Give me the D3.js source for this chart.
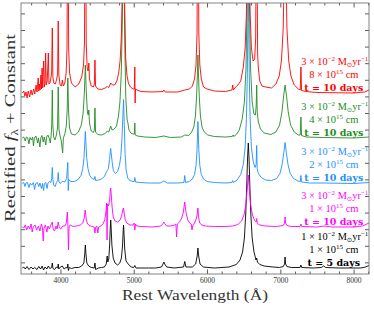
<!DOCTYPE html>
<html>
<head>
<meta charset="utf-8">
<script src="https://cdn.jsdelivr.net/npm/d3@7"></script>
<style>
body { margin: 0; background: #fff; }
svg text { font-family: "Liberation Serif", "DejaVu Serif", serif; }
</style>
</head>
<body>
<div id="chart"></div>
<script>
// spectra, each point is [rest wavelength (A), rectified flux]
var specBlack = [[3480,1.0],[3500,1.1],[3520,0.9],[3545,1.15],[3570,0.85],[3600,1.1],[3625,0.9],[3650,1.05],[3680,0.85],[3705,1.15],[3730,0.9],[3750,1.2],[3770,0.8],[3790,1.1],[3815,0.9],[3835,1.2],[3855,0.95],[3880,1.05],[3889,1.5],[3898,0.95],[3920,0.85],[3945,1.1],[3962,1.0],[3970,1.4],[3978,0.9],[4000,1.1],[4026,1.2],[4050,0.9],[4075,1.05],[4093,1.0],[4101,1.4],[4109,0.75],[4120,1.05],[4150,0.95],[4200,1.05],[4250,1.05],[4290,1.2],[4320,1.5],[4333,2.5],[4340,3.3],[4347,2.5],[4360,1.5],[4385,1.2],[4420,1.05],[4460,1.0],[4471,1.5],[4480,0.85],[4520,1.0],[4560,1.05],[4600,1.1],[4625,1.4],[4638,2.2],[4646,1.6],[4660,1.9],[4672,3.4],[4681,5.2],[4686,5.8],[4691,5.2],[4702,3.3],[4720,2.0],[4745,1.5],[4780,1.3],[4810,1.5],[4832,2.0],[4847,3.2],[4856,4.7],[4861,5.3],[4866,4.7],[4877,2.9],[4895,1.7],[4925,1.4],[4965,1.1],[5000,1.05],[5015,1.25],[5030,1.0],[5100,1.0],[5200,1.0],[5300,1.0],[5380,1.1],[5400,1.4],[5411,1.6],[5422,1.4],[5450,1.1],[5550,1.0],[5680,1.1],[5696,1.65],[5712,1.1],[5800,1.1],[5845,1.4],[5866,2.2],[5876,3.0],[5886,2.2],[5905,1.4],[5950,1.1],[6100,1.0],[6300,1.1],[6400,1.35],[6450,1.8],[6485,2.6],[6510,4.0],[6529,6.5],[6543,9.5],[6553,12.0],[6563,13.5],[6573,12.0],[6583,9.5],[6597,6.5],[6616,4.0],[6641,2.6],[6668,1.8],[6678,2.0],[6688,1.6],[6720,1.35],[6780,1.2],[6900,1.1],[6990,1.05],[7040,1.15],[7058,1.4],[7065,2.1],[7072,1.4],[7090,1.15],[7150,1.05],[7270,1.05],[7281,1.3],[7292,1.05],[7450,1.0],[7560,1.05],[7590,1.2],[7620,1.05],[7800,1.0],[8100,1.0],[8160,1.1],[8210,1.25]];

var specMagenta = [[3480,1.0],[3500,0.9],[3520,1.2],[3540,0.7],[3560,1.1],[3580,0.8],[3600,1.3],[3615,0.5],[3630,1.0],[3655,1.2],[3675,0.7],[3700,1.1],[3720,0.6],[3740,1.3],[3755,0.9],[3765,-0.4],[3775,0.9],[3795,1.2],[3815,0.5],[3830,1.1],[3850,0.8],[3870,1.2],[3889,1.5],[3900,0.8],[3920,0.6],[3940,1.1],[3955,0.8],[3970,1.5],[3985,0.9],[4005,0.8],[4030,1.1],[4060,1.1],[4080,1.4],[4095,2.5],[4103,1.0],[4110,-1.3],[4118,1.0],[4135,1.2],[4170,1.05],[4220,1.1],[4270,1.2],[4305,1.4],[4325,1.9],[4337,2.7],[4343,2.4],[4352,1.8],[4365,1.4],[4390,1.15],[4430,1.05],[4460,1.0],[4471,0.4],[4482,1.0],[4497,1.1],[4510,0.4],[4522,1.0],[4550,1.1],[4580,1.3],[4605,1.7],[4622,2.6],[4630,3.4],[4636,-0.3],[4643,3.3],[4656,3.1],[4670,3.6],[4680,4.6],[4686,4.9],[4692,4.4],[4705,3.0],[4720,2.0],[4745,1.6],[4780,1.5],[4815,1.7],[4838,2.2],[4853,2.8],[4861,2.9],[4868,2.5],[4882,1.8],[4905,1.4],[4950,1.2],[4990,1.2],[5005,1.4],[5015,0.7],[5025,1.3],[5045,1.1],[5100,1.05],[5250,1.0],[5370,1.1],[5400,1.35],[5411,1.5],[5422,1.35],[5450,1.1],[5500,1.1],[5555,1.2],[5575,1.3],[5585,0.0],[5595,1.3],[5625,1.5],[5655,1.9],[5675,2.4],[5688,3.1],[5696,3.5],[5704,3.0],[5717,2.3],[5738,1.7],[5765,1.4],[5785,1.3],[5795,0.7],[5808,1.2],[5830,1.4],[5852,1.8],[5866,2.3],[5876,2.9],[5884,2.0],[5900,1.4],[5930,1.2],[5980,1.1],[6100,1.05],[6250,1.05],[6350,1.1],[6420,1.25],[6470,1.6],[6505,2.2],[6530,3.3],[6547,4.6],[6557,5.6],[6563,6.2],[6569,5.6],[6579,4.6],[6596,3.2],[6620,2.2],[6650,1.65],[6670,1.5],[6678,1.85],[6686,1.35],[6720,1.2],[6800,1.1],[6950,1.05],[7040,1.15],[7058,1.4],[7065,2.0],[7072,1.4],[7090,1.15],[7150,1.05],[7270,1.05],[7281,1.3],[7292,1.05],[7500,1.0],[7600,1.1],[7700,1.0],[8000,1.0],[8120,1.1],[8180,1.3],[8210,1.4]];

var specBlue = [[3480,1.0],[3500,1.1],[3515,0.7],[3530,1.05],[3550,1.1],[3570,0.6],[3585,1.0],[3610,0.85],[3630,1.1],[3648,0.4],[3662,1.0],[3685,1.1],[3705,0.7],[3720,1.05],[3742,0.5],[3755,1.0],[3770,0.3],[3782,1.0],[3800,1.1],[3818,0.5],[3830,1.05],[3850,1.2],[3870,1.1],[3881,1.5],[3889,2.6],[3897,1.4],[3910,0.8],[3930,0.7],[3945,1.1],[3962,1.3],[3970,2.1],[3978,1.2],[3995,1.0],[4026,1.2],[4060,1.15],[4085,1.5],[4095,2.6],[4101,3.1],[4107,0.3],[4115,1.4],[4140,1.2],[4190,1.2],[4240,1.4],[4280,1.8],[4305,2.5],[4322,3.6],[4333,5.2],[4340,6.2],[4347,5.2],[4358,3.6],[4375,2.5],[4400,1.8],[4430,1.5],[4460,1.4],[4471,1.7],[4480,1.3],[4520,1.35],[4560,1.45],[4600,1.7],[4625,2.1],[4640,2.3],[4655,2.5],[4670,3.4],[4680,4.2],[4686,4.5],[4692,4.1],[4705,3.2],[4722,2.3],[4750,2.0],[4780,2.2],[4805,2.8],[4825,3.8],[4840,5.5],[4852,7.8],[4861,9.4],[4870,7.2],[4882,4.0],[4897,2.3],[4920,1.5],[4950,1.3],[4990,1.2],[5007,1.2],[5015,1.6],[5025,1.15],[5080,1.1],[5200,1.05],[5360,1.05],[5411,1.25],[5460,1.05],[5600,1.05],[5685,1.1],[5696,1.8],[5707,1.1],[5760,1.2],[5800,1.45],[5830,1.9],[5850,2.8],[5864,4.4],[5876,7.2],[5888,4.4],[5902,2.8],[5922,1.9],[5952,1.45],[6000,1.2],[6100,1.1],[6250,1.05],[6340,1.1],[6350,1.3],[6360,1.1],[6410,1.35],[6460,1.9],[6495,2.9],[6520,4.6],[6538,7.5],[6550,12.0],[6557,17.0],[6563,21.0],[6569,17.0],[6576,12.0],[6588,7.5],[6606,4.6],[6630,3.2],[6655,2.6],[6670,2.9],[6678,4.8],[6684,2.5],[6700,2.0],[6740,1.6],[6800,1.35],[6880,1.3],[6950,1.5],[6995,2.0],[7025,2.9],[7048,4.1],[7065,5.1],[7082,4.1],[7105,2.9],[7135,2.0],[7180,1.5],[7240,1.25],[7272,1.2],[7281,1.8],[7290,1.15],[7400,1.05],[7600,1.05],[8000,1.0],[8210,1.1]];

var specGreen = [[3480,1.0],[3500,1.1],[3520,0.7],[3535,1.1],[3555,1.0],[3570,0.4],[3585,1.05],[3605,0.8],[3620,1.1],[3632,0.2],[3645,1.0],[3665,1.2],[3690,0.5],[3700,1.0],[3720,0.1],[3732,1.0],[3748,1.25],[3765,0.6],[3780,1.1],[3800,0.3],[3812,1.1],[3830,1.3],[3850,0.9],[3862,0.5],[3875,1.4],[3882,2.5],[3889,5.8],[3896,2.3],[3908,1.1],[3925,0.8],[3945,1.3],[3960,2.0],[3970,6.1],[3980,1.9],[3995,1.2],[4012,0.7],[4030,-0.5],[4040,1.0],[4060,1.4],[4080,2.2],[4092,3.8],[4101,7.0],[4110,3.8],[4125,2.0],[4150,1.4],[4200,1.3],[4245,1.6],[4285,2.3],[4310,3.5],[4327,5.6],[4340,8.3],[4353,5.6],[4368,3.6],[4379,3.3],[4388,3.8],[4396,2.5],[4420,1.7],[4450,1.55],[4463,1.8],[4471,4.0],[4479,1.6],[4510,1.35],[4560,1.3],[4610,1.45],[4640,1.7],[4660,1.6],[4686,2.2],[4705,1.8],[4735,1.9],[4765,2.2],[4792,3.2],[4812,4.6],[4830,7.5],[4845,13],[4855,19],[4861,23],[4867,19],[4877,11],[4892,5.0],[4910,2.8],[4921,2.5],[4935,1.8],[4960,1.5],[4990,1.4],[5008,1.4],[5015,2.5],[5020,1.3],[5050,1.2],[5150,1.1],[5300,1.05],[5411,1.2],[5500,1.05],[5650,1.1],[5696,1.3],[5750,1.25],[5790,1.6],[5820,2.1],[5842,3.2],[5858,5.2],[5868,7.2],[5876,9.3],[5884,7.2],[5894,5.2],[5910,3.2],[5932,2.1],[5962,1.6],[6010,1.3],[6100,1.15],[6250,1.1],[6345,1.15],[6355,1.3],[6365,1.15],[6400,1.35],[6440,1.8],[6480,2.9],[6510,4.6],[6532,8.0],[6546,14],[6555,20],[6563,24],[6571,20],[6580,14],[6594,8.0],[6616,4.6],[6640,3.4],[6660,3.3],[6671,4.2],[6678,6.3],[6685,3.6],[6700,2.6],[6730,1.9],[6780,1.5],[6870,1.35],[6940,1.6],[6990,2.3],[7022,3.6],[7045,5.2],[7065,6.3],[7085,5.2],[7108,3.6],[7140,2.3],[7190,1.6],[7245,1.3],[7272,1.3],[7281,3.1],[7290,1.25],[7350,1.1],[7600,1.05],[8000,1.0],[8210,1.1]];

var specRed = [[3480,1.0],[3500,1.2],[3515,0.7],[3530,1.1],[3545,0.5],[3560,1.2],[3580,0.6],[3598,1.3],[3615,0.8],[3635,1.4],[3650,0.9],[3668,1.8],[3680,1.1],[3697,2.5],[3705,1.2],[3715,1.9],[3722,1.3],[3734,2.8],[3740,1.4],[3750,3.5],[3758,1.5],[3771,4.2],[3780,1.6],[3790,2.0],[3798,5.0],[3806,1.8],[3820,2.2],[3835,5.0],[3843,1.9],[3858,2.0],[3872,2.6],[3880,3.0],[3889,7.5],[3897,2.6],[3910,2.0],[3930,1.9],[3950,2.4],[3962,3.0],[3970,8.2],[3978,2.8],[3995,1.8],[4015,1.7],[4026,2.3],[4040,1.7],[4060,2.0],[4078,3.0],[4090,5.5],[4101,25],[4112,5.5],[4125,3.0],[4150,2.0],[4200,1.6],[4250,1.9],[4290,2.6],[4315,3.8],[4328,6.0],[4340,25],[4352,6.0],[4365,3.5],[4378,3.2],[4388,4.0],[4396,2.4],[4420,1.7],[4450,1.6],[4463,1.9],[4471,4.3],[4479,1.7],[4510,1.4],[4560,1.35],[4610,1.5],[4640,1.65],[4660,1.55],[4686,2.0],[4710,1.8],[4740,1.8],[4770,2.2],[4795,3.0],[4815,4.3],[4832,6.8],[4846,12],[4861,30],[4876,10],[4890,4.5],[4907,2.8],[4927,2.0],[4955,1.6],[4990,1.4],[5008,1.4],[5015,3.6],[5019,0.0],[5024,1.4],[5045,1.3],[5100,1.15],[5250,1.1],[5400,1.15],[5411,1.3],[5430,1.1],[5600,1.1],[5696,1.3],[5760,1.4],[5800,1.7],[5830,2.4],[5850,3.8],[5864,7.0],[5876,28],[5888,7.0],[5902,3.8],[5922,2.4],[5952,1.6],[6000,1.4],[6100,1.2],[6250,1.15],[6340,1.3],[6350,1.8],[6360,1.3],[6380,1.5],[6420,1.8],[6460,2.2],[6495,3.6],[6520,5.5],[6538,9.0],[6550,18],[6563,40],[6576,18],[6588,9.0],[6606,5.5],[6628,4.2],[6650,4.4],[6664,6.5],[6678,25],[6690,5.0],[6700,3.5],[6720,2.2],[6750,1.7],[6800,1.6],[6880,1.5],[6940,1.9],[6985,2.7],[7015,4.2],[7040,7.5],[7055,14],[7065,25],[7075,14],[7090,7.5],[7115,4.2],[7145,2.7],[7190,1.8],[7245,1.4],[7272,1.3],[7281,3.6],[7290,1.25],[7350,1.15],[7500,1.05],[8000,1.0],[8150,1.1],[8210,1.3]];

// vertical offsets added to each spectrum
var offsets = [0, 4.1, 8.45, 13.0, 17.5];

// model labels (mass-loss rate x 1e-2 Msun/yr, radius x 1e15 cm, epoch)
var massLoss = ["1", "3", "3", "3", "3"];
var radius = ["1", "1", "2", "4", "8"];
var epochs = ["5", "10", "10", "10", "10"];

var majorTicks = [4000, 5000, 6000, 7000, 8000];

var spectra = [specBlack, specMagenta, specBlue, specGreen, specRed];
var colors = ["black", "magenta", "dodgerblue", "forestgreen", "red"];

var svgWidth = 374;
var svgHeight = 309;

var margin = {
    top: 3,
    right: 5,
    bottom: 35,
    left: 21
};

var width = svgWidth - margin.left - margin.right;
var height = svgHeight - margin.top - margin.bottom;

var svg = d3.select("#chart")
    .append("svg")
    .attr("width", svgWidth)
    .attr("height", svgHeight);

var chartGroup = svg.append("g")
    .attr("transform", `translate(${margin.left}, ${margin.top})`);

var xScale = d3.scaleLinear()
    .domain([3462, 8210])
    .range([0, width]);

var yScale = d3.scaleLinear()
    .domain([0.4, 27.5])
    .range([height, 0]);

svg.append("defs").append("clipPath")
    .attr("id", "plotClip")
    .append("rect")
    .attr("width", width)
    .attr("height", height);

// spectra
var line = d3.line()
    .x(d => xScale(d[0]))
    .y(d => yScale(d[1]));

var specGroup = chartGroup.append("g").attr("clip-path", "url(#plotClip)");

spectra.forEach((spec, i) => {
    specGroup.append("path")
        .datum(spec.map(d => [d[0], d[1] + offsets[i]]))
        .attr("d", line)
        .attr("fill", "none")
        .attr("stroke", colors[i])
        .attr("stroke-width", 0.9)
        .attr("stroke-linejoin", "round");
});

// axes, ticks pointing inward
var minorTicks = d3.range(3600, 8201, 200).filter(v => v % 1000 !== 0);
var yTicks = d3.range(1.56, 27, 1.66);

function styleAxis(g) {
    g.select(".domain").remove();
    g.selectAll(".tick line").attr("stroke", "#333").attr("stroke-width", 0.8);
}

chartGroup.append("g")
    .attr("transform", `translate(0, ${height})`)
    .call(d3.axisBottom(xScale).tickValues(majorTicks).tickSize(-4.5).tickPadding(3.5).tickFormat(d3.format("d")))
    .call(styleAxis)
    .call(g => g.selectAll("text").attr("font-size", 7.5).attr("fill", "#333")
        .style("font-family", "'Liberation Serif', serif"));

chartGroup.append("g")
    .attr("transform", `translate(0, ${height})`)
    .call(d3.axisBottom(xScale).tickValues(minorTicks).tickSize(-2.5).tickFormat(""))
    .call(styleAxis);

chartGroup.append("g")
    .call(d3.axisTop(xScale).tickValues(majorTicks).tickSize(-4.5).tickFormat(""))
    .call(styleAxis);

chartGroup.append("g")
    .call(d3.axisTop(xScale).tickValues(minorTicks).tickSize(-2.5).tickFormat(""))
    .call(styleAxis);

chartGroup.append("g")
    .call(d3.axisLeft(yScale).tickValues(yTicks).tickSize(-4).tickFormat(""))
    .call(styleAxis);

chartGroup.append("g")
    .attr("transform", `translate(${width}, 0)`)
    .call(d3.axisRight(yScale).tickValues(yTicks).tickSize(-4).tickFormat(""))
    .call(styleAxis);

chartGroup.append("rect")
    .attr("width", width)
    .attr("height", height)
    .attr("fill", "none")
    .attr("stroke", "#777")
    .attr("stroke-width", 0.9);

// model labels
var labelX = xScale(7730);

spectra.forEach((spec, i) => {
    var base = yScale(1 + offsets[i]);

    var t1 = chartGroup.append("text")
        .attr("x", labelX + 1)
        .attr("y", base - 28.5)
        .attr("text-anchor", "middle")
        .attr("font-size", 10.3)
        .attr("fill", colors[i]);
    t1.append("tspan").text(massLoss[i] + " \u00d7 10");
    t1.append("tspan").attr("font-size", 7).attr("dy", -4).text("\u22122");
    t1.append("tspan").attr("dy", 4).text(" M");
    t1.append("tspan").attr("font-size", 6.5).attr("dy", 2)
        .style("font-family", "'DejaVu Sans', sans-serif").text("\u2299");
    t1.append("tspan").attr("dy", -2).text("yr");
    t1.append("tspan").attr("font-size", 7).attr("dy", -4).text("\u22121");

    var t2 = chartGroup.append("text")
        .attr("x", labelX)
        .attr("y", base - 15.5)
        .attr("text-anchor", "middle")
        .attr("font-size", 10.5)
        .attr("fill", colors[i]);
    t2.append("tspan").text(radius[i] + " \u00d7 10");
    t2.append("tspan").attr("font-size", 7).attr("dy", -4).text("15");
    t2.append("tspan").attr("dy", 4).text(" cm");

    chartGroup.append("text")
        .attr("x", labelX)
        .attr("y", base - 2.5)
        .attr("text-anchor", "middle")
        .attr("font-size", 9.5)
        .attr("font-weight", "bold")
        .style("font-family", "'DejaVu Serif', serif")
        .attr("fill", colors[i])
        .text("t = " + epochs[i] + " days");
});

// axis titles
chartGroup.append("text")
    .attr("x", width / 2)
    .attr("y", height + 26)
    .attr("text-anchor", "middle")
    .attr("font-size", 15.5)
    .attr("textLength", 146)
    .attr("lengthAdjust", "spacingAndGlyphs")
    .attr("fill", "#333")
    .text("Rest Wavelength (\u00c5)");

var yLabel = chartGroup.append("text")
    .attr("transform", "rotate(-90)")
    .attr("x", -125)
    .attr("y", -6)
    .attr("text-anchor", "middle")
    .attr("font-size", 15.5)
    .attr("textLength", 188)
    .attr("lengthAdjust", "spacingAndGlyphs")
    .attr("fill", "#333");
yLabel.append("tspan").text("Rectified ");
yLabel.append("tspan").attr("font-style", "italic").text("f");
yLabel.append("tspan").attr("font-size", 10).attr("dy", 3).text("\u03bb");
yLabel.append("tspan").attr("dy", -3).text(" + Constant");
</script>
</body>
</html>
